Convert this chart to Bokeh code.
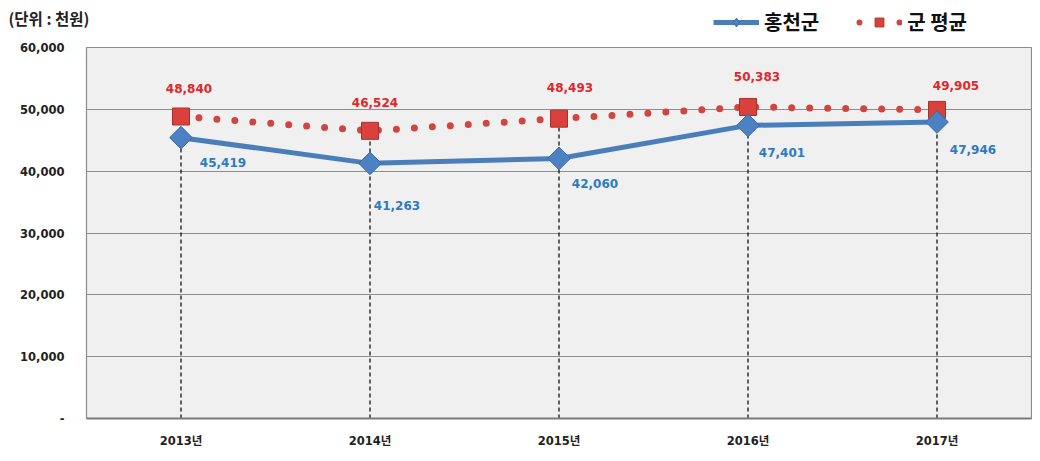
from bokeh.plotting import figure
from bokeh.layouts import column
from bokeh.models import (ColumnDataSource, FixedTicker, NumeralTickFormatter, Legend,
                          LegendItem, Label, Range1d, FactorRange)
from bokeh.core.properties import value
from bokeh.embed import file_html
from bokeh.resources import INLINE

years = ["2013년", "2014년", "2015년", "2016년", "2017년"]
hongcheon = [45419, 41263, 42060, 47401, 47946]
county_avg = [48840, 46524, 48493, 50383, 49905]
y_ticks = [0, 10000, 20000, 30000, 40000, 50000, 60000]
series_names = ["홍천군", "군 평균"]
unit_text = "(단위 : 천원)"

# label placement (screen px offsets)
avg_dx = [8, 5, 11, 9, 19]
avg_dy = [-28, -28, -31, -30, -24]
hc_dx = [42, 27, 36, 34, 36]
hc_dy = [25, 42, 25, 27, 27]

NUM_FONT = "DejaVu Sans, Noto Sans CJK KR"
KR_FONT = "Noto Sans CJK KR"
RED_LINE = "#D0453F"
RED_FILL = "#D9413C"
RED_EDGE = "#A8302C"
BLUE_LINE = "#4A7EBB"
BLUE_FILL = "#4C82C3"
BLUE_EDGE = "#3A6AA8"

W = 1032
HEAD_H = 40
MAIN_H = 413

src = ColumnDataSource(dict(
    x=years, hc=hongcheon, avg=county_avg, zero=[0] * len(years),
    hc_lbl=[f"{v:,}" for v in hongcheon], avg_lbl=[f"{v:,}" for v in county_avg],
    avg_dx=avg_dx, avg_dy=avg_dy, hc_dx=hc_dx, hc_dy=hc_dy,
))

# ---------- header strip: unit note + legend ----------
head = figure(width=W, height=HEAD_H, x_range=FactorRange(*years, range_padding=0),
              y_range=Range1d(0, 60000),
              output_backend="svg", toolbar_location=None,
              x_axis_location=None, y_axis_location=None, min_border=0)
if "frame_align" in head.properties():
    head.frame_align = False
head.outline_line_color = None
head.background_fill_color = "white"
head.border_fill_color = "white"
head.xgrid.visible = False
head.ygrid.visible = False

head.add_layout(Label(x=8, y=HEAD_H - 17, x_units="screen", y_units="screen", text=unit_text,
                      text_font=KR_FONT, text_font_style="bold", text_font_size="15.5px",
                      text_color="#222222", text_baseline="middle"))

# hidden copies of the two series, used only for the legend swatches
lg_hc_line = head.line(x="x", y="hc", source=src, line_color=BLUE_LINE, line_width=5,
                       visible=False)
lg_hc_mark = head.scatter(x="x", y="hc", source=src, marker="diamond", size=16,
                          fill_color=BLUE_FILL, line_color=BLUE_EDGE, visible=False)
lg_avg_line = head.line(x="x", y="avg", source=src, line_color=RED_LINE, line_width=6,
                        line_dash="0 20", line_dash_offset=-3, line_cap="round", visible=False)
lg_avg_mark = head.scatter(x="x", y="avg", source=src, marker="square", size=10,
                           fill_color=RED_FILL, line_color=RED_EDGE, visible=False)

legend = Legend(items=[
    LegendItem(label=series_names[0], renderers=[lg_hc_line, lg_hc_mark]),
    LegendItem(label=series_names[1], renderers=[lg_avg_line, lg_avg_mark]),
], orientation="horizontal", location=(713, 4))
legend.glyph_width = 46
legend.glyph_height = 22
legend.label_height = 22
legend.label_standoff = 5
legend.spacing = 37
legend.padding = 0
legend.margin = 0
legend.border_line_color = None
legend.background_fill_alpha = 0
legend.label_text_font = KR_FONT
legend.label_text_font_style = "bold"
legend.label_text_font_size = "20px"
legend.label_text_color = "#111111"
head.add_layout(legend, "center")

# ---------- main chart ----------
p = figure(width=W, height=MAIN_H, x_range=FactorRange(*years, range_padding=0),
           y_range=Range1d(0, 60000), output_backend="svg", toolbar_location=None,
           min_border_left=86, min_border_top=7, min_border_bottom=35, min_border_right=1)
if "frame_align" in p.properties():
    p.frame_align = False

p.background_fill_color = "#F0F0F0"
p.border_fill_color = "white"
p.outline_line_color = "#8C8C8C"
p.outline_line_width = 1.2

p.xgrid.grid_line_color = None
p.ygrid.grid_line_color = "#8E8E8E"
p.ygrid.grid_line_width = 1

p.yaxis.ticker = FixedTicker(ticks=y_ticks)
p.yaxis.formatter = NumeralTickFormatter(format="0,0")
p.yaxis.major_label_overrides = {0: "-"}
p.yaxis.axis_line_color = None
p.yaxis.major_tick_line_color = None
p.yaxis.minor_tick_line_color = None
p.yaxis.major_label_standoff = 16
p.yaxis.major_label_text_font = NUM_FONT
p.yaxis.major_label_text_font_style = "bold"
p.yaxis.major_label_text_font_size = "11.5px"
p.yaxis.major_label_text_color = "#222222"

p.xaxis.axis_line_color = "#7A7A7A"
p.xaxis.axis_line_width = 2
p.xaxis.major_tick_line_color = None
p.xaxis.major_tick_out = 0
p.xaxis.major_label_standoff = 15
p.xaxis.major_label_text_font = NUM_FONT
p.xaxis.major_label_text_font_style = "bold"
p.xaxis.major_label_text_font_size = "11.5px"
p.xaxis.major_label_text_color = "#222222"

# drop lines
p.segment(x0="x", y0="zero", x1="x", y1="avg", source=src,
          line_color="black", line_width=1.2, line_dash="4 3")

# county average: dotted red line with squares
p.line(x="x", y="avg", source=src, line_color=RED_LINE, line_width=7,
       line_dash="0 18", line_cap="round")
p.scatter(x="x", y="avg", source=src, marker="square", size=17,
          fill_color=RED_FILL, line_color=RED_EDGE, line_width=1)

# Hongcheon: blue line with diamonds
p.line(x="x", y="hc", source=src, line_color=BLUE_LINE, line_width=5)
p.scatter(x="x", y="hc", source=src, marker="square", angle=0.785398, size=16,
          fill_color=BLUE_FILL, line_color=BLUE_EDGE, line_width=1)

# data labels
p.text(x="x", y="avg", text="avg_lbl", source=src, x_offset="avg_dx", y_offset="avg_dy",
       text_align="center", text_baseline="middle", text_color="#E3262B",
       text_font=value(NUM_FONT), text_font_style="bold", text_font_size="12px")
p.text(x="x", y="hc", text="hc_lbl", source=src, x_offset="hc_dx", y_offset="hc_dy",
       text_align="center", text_baseline="middle", text_color="#2F7BBF",
       text_font=value(NUM_FONT), text_font_style="bold", text_font_size="12px")

layout = column(head, p, spacing=0)
open("out.html", "w").write(file_html(layout, INLINE))
